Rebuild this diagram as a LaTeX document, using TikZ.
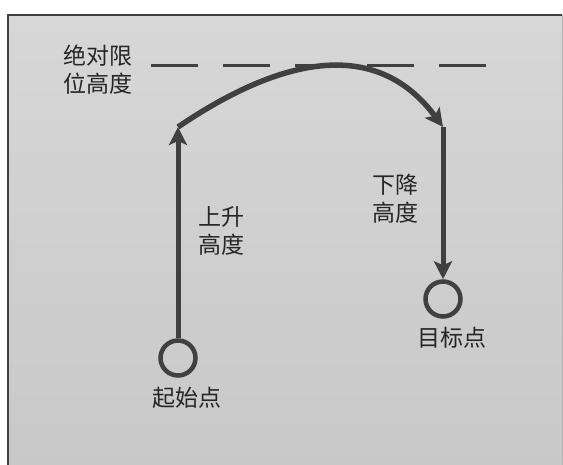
\documentclass[tikz,border=0pt]{standalone}
\usepackage{fontspec}
\setmainfont{Noto Sans CJK SC}
\usetikzlibrary{arrows.meta}
\definecolor{ink}{HTML}{404040}
\definecolor{bgtop}{HTML}{D7D7D7}
\definecolor{bgbot}{HTML}{C8C8C8}
\begin{document}
\begin{tikzpicture}[x=1pt,y=-1pt,
  flow/.style={draw=ink, line width=5pt, -{Stealth[length=18pt,width=18pt,inset=4pt]}},
  ring/.style={circle, draw=ink, line width=4.5pt, minimum size=35pt, inner sep=0pt},
  lbl/.style={font=\fontsize{23}{28}\selectfont, align=center, inner sep=0pt, text=black!85}]
\useasboundingbox (0,0) rectangle (563,465);
\fill[white] (0,0) rectangle (563,465);
\shade[top color=bgtop, bottom color=bgbot] (8,15) rectangle (562,470);
\draw[ink, line width=1.5pt] (8,470) -- (8,15) -- (562,15);
\draw[gray!60, line width=0.8pt] (562,15) -- (562,470);
% absolute limit height
\draw[ink, line width=3pt, dash pattern=on 47pt off 25pt] (151,66) -- (487,66);
\node[lbl] (limit) at (98,70) {绝对限\\位高度};
% points
\node[ring] (start) at (178,358) {};
\node[ring] (goal) at (443,299) {};
\coordinate (up) at (178,127);
\coordinate (down) at (443,127);
\draw[flow] (start) -- (up);
\draw[flow, line width=5.5pt] (up) .. controls (290,51) and (380,42) .. (down);
\draw[flow] (down) -- (goal);
% labels
\node[lbl] (rise) at (221.5,231) {上升\\高度};
\node[lbl] (fall) at (395.5,199) {下降\\高度};
\node[lbl] (goallbl) at (451.5,338) {目标点};
\node[lbl] (startlbl) at (187,398) {起始点};
\end{tikzpicture}
\end{document}
